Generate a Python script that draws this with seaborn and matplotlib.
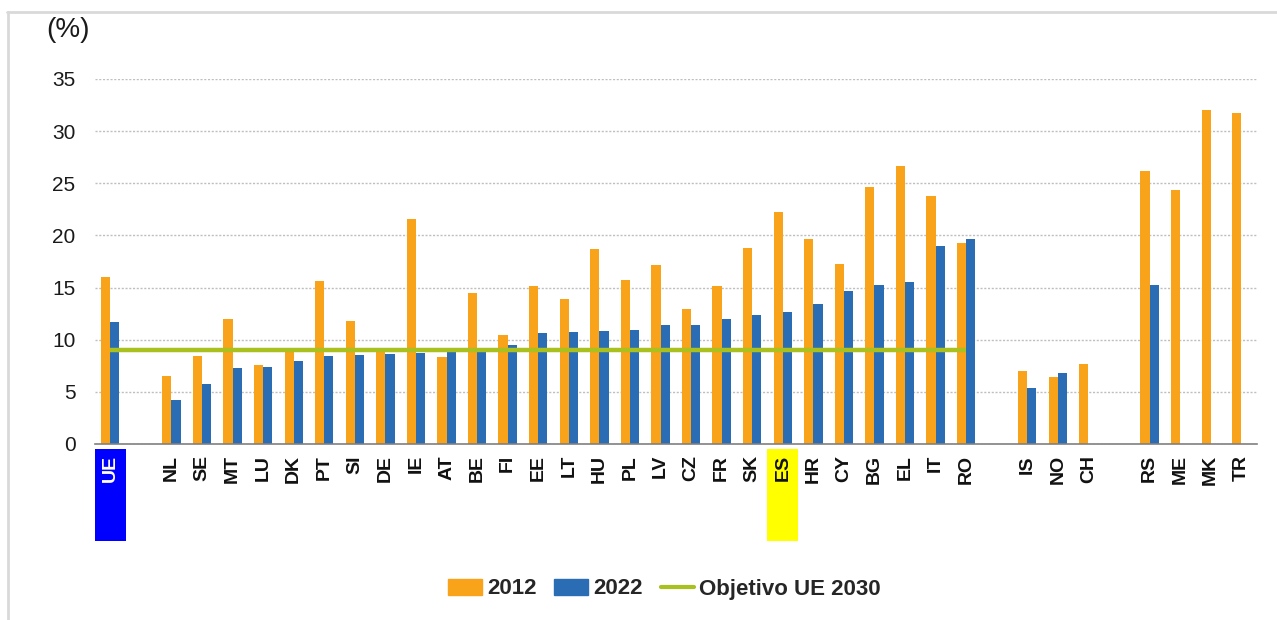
import seaborn as sns
import matplotlib.pyplot as plt
import matplotlib.patches as mpatches
from matplotlib.lines import Line2D
import pandas as pd
import numpy as np


# paises en el orden del grafico ('' / ' ' / '  ' son huecos de separacion)
paises = ['UE', '', 'NL', 'SE', 'MT', 'LU', 'DK', 'PT', 'SI', 'DE', 'IE', 'AT',
          'BE', 'FI', 'EE', 'LT', 'HU', 'PL', 'LV', 'CZ', 'FR', 'SK', 'ES', 'HR',
          'CY', 'BG', 'EL', 'IT', 'RO', ' ', 'IS', 'NO', 'CH', '  ', 'RS', 'ME',
          'MK', 'TR']

abandono_2012 = [16.0, None, 6.5, 8.4, 12.0, 7.6, 9.1, 15.6, 11.8, 9.2, 21.6, 8.3,
                 14.5, 10.4, 15.1, 13.9, 18.7, 15.7, 17.2, 12.9, 15.1, 18.8, 22.2, 19.7,
                 17.3, 24.6, 26.7, 23.8, 19.3, None, 7.0, 6.4, 7.7, None, 26.2, 24.4,
                 32.0, 31.7]

abandono_2022 = [11.7, None, 4.2, 5.7, 7.3, 7.4, 8.0, 8.4, 8.5, 8.6, 8.7, 8.8,
                 8.9, 9.5, 10.6, 10.7, 10.8, 10.9, 11.4, 11.4, 12.0, 12.4, 12.7, 13.4,
                 14.7, 15.2, 15.5, 19.0, 19.7, None, 5.4, 6.8, None, None, 15.2, None,
                 None, None]

objetivo_ue = 9.0
tramo_objetivo = ['UE', 'RO']

anios = ['2012', '2022']
colores = ['#F9A31B', '#2A6DB5']
color_objetivo = '#A9C01F'
resaltados = {'UE': '#0000FF', 'ES': '#FFFF00'}


def build_df():
    rows = []
    for anio, serie in zip(anios, [abandono_2012, abandono_2022]):
        for pais, valor in zip(paises, serie):
            if valor is not None:
                rows.append({'pais': pais, 'anio': anio, 'valor': valor})
    return pd.DataFrame(rows)


sns.set_theme(style="white")
plt.rcParams['font.family'] = ['Liberation Sans', 'DejaVu Sans']

fig = plt.figure(figsize=(12.77, 6.2), dpi=100)
ax = fig.add_axes([0.0744, 0.284, 0.9096, 0.5886])

df = build_df()
sns.barplot(data=df, x='pais', y='valor', hue='anio', order=paises,
            hue_order=anios, palette=colores, width=0.6, saturation=1,
            linewidth=0, legend=False, ax=ax)

# linea del objetivo UE 2030
x_obj = [paises.index(p) for p in tramo_objetivo]
ax.plot(x_obj, [objetivo_ue] * 2, color=color_objetivo, lw=3.2, zorder=5,
        solid_capstyle='butt')

ax.set(ylim=(0, 35), xlim=(-0.5, len(paises) - 0.5), xlabel='', ylabel='')
ax.set_yticks(np.arange(0, 36, 5))
ax.yaxis.grid(True, color='#BFBFBF', linestyle=(0, (1.5, 1.2)), linewidth=1)
ax.set_axisbelow(True)
for s in ['top', 'right', 'left']:
    ax.spines[s].set_visible(False)
ax.spines['bottom'].set_color('#808080')
ax.spines['bottom'].set_linewidth(1.2)

ax.tick_params(axis='y', length=0, pad=14, labelsize=15, labelcolor='#1A1A1A')
ax.set_xticks(np.arange(len(paises) + 1) - 0.5, minor=True)
ax.tick_params(axis='x', which='minor', length=4, width=1, color='#808080')
ax.tick_params(axis='x', which='major', length=0, pad=8, labelsize=14,
               labelcolor='#111111', rotation=90)
for lbl in ax.get_xticklabels():
    lbl.set_fontweight('bold')
    if lbl.get_text() == 'UE':
        lbl.set_color('white')

# cajas de color tras UE y ES
for pais, color in resaltados.items():
    i = paises.index(pais)
    ax.add_patch(mpatches.Rectangle((i - 0.5, -0.014), 1.0, -0.252,
                                    transform=ax.get_xaxis_transform(),
                                    facecolor=color, edgecolor='none',
                                    clip_on=False, zorder=0.5))

fig.text(0.053, 0.952, '(%)', fontsize=20, ha='center', va='center',
         color='#1A1A1A')

handles = [mpatches.Patch(color=colores[0], label=anios[0]),
           mpatches.Patch(color=colores[1], label=anios[1]),
           Line2D([], [], color=color_objetivo, lw=3, label='Objetivo UE 2030')]
fig.legend(handles=handles, loc='center', bbox_to_anchor=(0.5205, 0.0500),
           ncol=3, frameon=False, handlelength=1.5, handletextpad=0.25,
           columnspacing=0.8, prop={'weight': 'bold', 'size': 16})

# borde gris superior e izquierdo
fig.add_artist(Line2D([0.0055, 1.0], [0.9806, 0.9806], color='#D9D9D9', lw=2,
                      transform=fig.transFigure))
fig.add_artist(Line2D([0.0063, 0.0063], [0.0, 0.9806], color='#D9D9D9', lw=2,
                      transform=fig.transFigure))

fig.savefig('out.png', dpi=100)
